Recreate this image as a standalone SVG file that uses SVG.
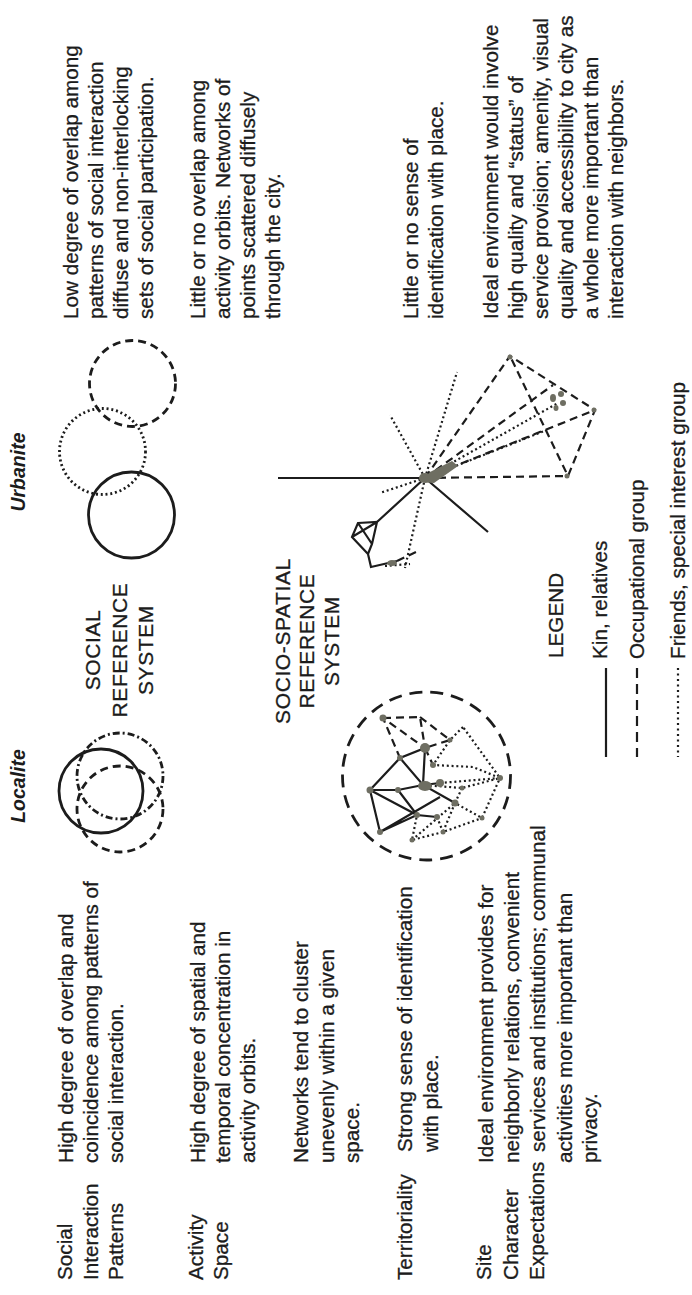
<svg xmlns="http://www.w3.org/2000/svg" width="692" height="1295" viewBox="0 0 692 1295">
<style>
.txt{font-family:"Liberation Sans",Arial,sans-serif;font-size:20.7px;fill:#1c1c1c;stroke:#1c1c1c;stroke-width:0.3}
.hd{font-style:italic;font-weight:bold;font-size:19.5px;text-anchor:middle;stroke-width:0}
.cap{font-size:21px;letter-spacing:0.6px;text-anchor:middle}
.ln{fill:none;stroke:#1c1c1c;stroke-width:2.2;stroke-linecap:butt}
.ring{fill:none;stroke:#1c1c1c;stroke-width:2.8}
.dash{stroke-dasharray:8 5}
.ldash{stroke-dasharray:13 8}
.dot{stroke-dasharray:2 2.8}
.dd{stroke-dasharray:7 3 2 3}
.blob{fill:#6e6e62}
</style>
<rect width="692" height="1295" fill="#ffffff"/>

<g id="texts" class="txt" transform="translate(0,1295) rotate(-90)">
  <g id="headers">
    <text class="hd" x="509" y="25">Localite</text>
    <text class="hd" x="823" y="25">Urbanite</text>
  </g>
  <g id="row-labels">
    <text x="15" y="72">Social</text>
    <text x="15" y="98">Interaction</text>
    <text x="15" y="123">Patterns</text>
    <text x="15" y="203">Activity</text>
    <text x="15" y="228">Space</text>
    <text x="15" y="412">Territoriality</text>
    <text x="15" y="491">Site</text>
    <text x="15" y="518">Character</text>
    <text x="15" y="544">Expectations</text>
  </g>
  <g id="localite-text">
    <text x="132" y="73">High degree of overlap and</text>
    <text x="132" y="98">coincidence among patterns of</text>
    <text x="132" y="123">social interaction.</text>
    <text x="132" y="205">High degree of spatial and</text>
    <text x="132" y="230">temporal concentration in</text>
    <text x="132" y="255">activity orbits.</text>
    <text x="132" y="308">Networks tend to cluster</text>
    <text x="132" y="334">unevenly within a given</text>
    <text x="132" y="359">space.</text>
    <text x="143" y="412">Strong sense of identification</text>
    <text x="143" y="438">with place.</text>
    <text x="132" y="493">Ideal environment provides for</text>
    <text x="132" y="519">neighborly relations, convenient</text>
    <text x="143" y="545">services and institutions; communal</text>
    <text x="132" y="572">activities more important than</text>
    <text x="132" y="597">privacy.</text>
  </g>
  <g id="urbanite-text">
    <text x="976" y="78">Low degree of overlap among</text>
    <text x="976" y="103">patterns of social interaction</text>
    <text x="976" y="128">diffuse and non-interlocking</text>
    <text x="976" y="153">sets of social participation.</text>
    <text x="976" y="205">Little or no overlap among</text>
    <text x="976" y="230">activity orbits. Networks of</text>
    <text x="976" y="255">points scattered diffusely</text>
    <text x="976" y="280">through the city.</text>
    <text x="976" y="418">Little or no sense of</text>
    <text x="976" y="443">identification with place.</text>
    <text x="976" y="498">Ideal environment would involve</text>
    <text x="976" y="523">high quality and “status” of</text>
    <text x="976" y="548">service provision; amenity, visual</text>
    <text x="976" y="573">quality and accessibility to city as</text>
    <text x="976" y="598">a whole more important than</text>
    <text x="976" y="623">interaction with neighbors.</text>
  </g>
  <g id="system-titles">
    <text class="cap" x="645" y="100">SOCIAL</text>
    <text class="cap" x="645" y="127">REFERENCE</text>
    <text class="cap" x="645" y="153">SYSTEM</text>
    <text class="cap" x="654" y="290">SOCIO-SPATIAL</text>
    <text class="cap" x="654" y="314">REFERENCE</text>
    <text class="cap" x="654" y="339">SYSTEM</text>
  </g>
  <g id="legend-text">
    <text x="637" y="563">LEGEND</text>
    <text x="636" y="607">Kin, relatives</text>
    <text x="636" y="644">Occupational group</text>
    <text x="636" y="685">Friends, special interest group</text>
  </g>
</g>

<g id="localite-social">
  <circle class="ring" cx="101" cy="791" r="42"/>
  <circle class="ring dd" cx="120" cy="776" r="43"/>
  <circle class="ring dash" cx="120" cy="809" r="43"/>
</g>

<g id="urbanite-social">
  <circle class="ring dash" cx="132.5" cy="383.5" r="43"/>
  <circle class="ring dot" cx="102.5" cy="451.5" r="43"/>
  <circle class="ring" cx="131.5" cy="515" r="43"/>
</g>

<g id="connectors">
  <g id="localite-network">
    <circle class="ring ldash" cx="426.5" cy="776" r="84"/>
    <path class="ln" d="M370 790L400 758L425 748L423 785M370 790L398 790L423 785L440 783M370 790L380 832L417 815L370 790M380 832L440 797M400 758L423 785L455 803M398 790L417 815L437 817"/>
    <path class="ln dash" d="M383 718L420 717L425 748L383 718L400 758M420 717L450 740L425 748M425 748L433 765"/>
    <path class="ln dot" d="M463 727L450 740L433 765L473 767L500 778L463 727M440 783L500 778L462 788L423 785M462 788L455 803L482 818L500 778M455 803L443 832L482 818M443 832L412 840L417 815M437 817L443 832M412 840L455 803"/>
    <g class="blob">
      <circle cx="383" cy="718" r="3.5"/>
      <circle cx="425" cy="748" r="5"/>
      <ellipse cx="425" cy="786" rx="7" ry="5"/>
      <circle cx="370" cy="790" r="3.5"/>
      <circle cx="400" cy="758" r="3"/>
      <circle cx="398" cy="790" r="3"/>
      <circle cx="440" cy="783" r="4"/>
      <circle cx="462" cy="788" r="2.5"/>
      <circle cx="455" cy="803" r="3.5"/>
      <circle cx="437" cy="817" r="3"/>
      <circle cx="417" cy="815" r="3"/>
      <circle cx="380" cy="832" r="3"/>
      <circle cx="412" cy="840" r="2.5"/>
      <circle cx="443" cy="832" r="2.5"/>
      <circle cx="482" cy="818" r="2.5"/>
      <circle cx="500" cy="778" r="3"/>
      <circle cx="433" cy="765" r="3"/>
      <circle cx="450" cy="740" r="2.5"/>
    </g>
  </g>
  <g id="urbanite-network">
    <path class="ln" d="M278 478L425 478L488 532M425 478L377 522"/>
    <path class="ln" d="M358 523L377 522L372 544L368 554L352 537Z M358 523L372 544 M377 522L352 537 M368 554L371 567L397 561"/>
    <path class="ln dash" d="M397 561L418 551M425 478L568 476M425 478L510 356L595 410L568 476L510 356M425 478L595 410M425 478L553 385"/>
    <path class="ln dot" d="M425 478L380 493M425 478L405 568M425 478L390 415M425 478L457 372M425 478L558 403M425 478L547 430M385 566L410 564"/>
    <g class="blob">
      <ellipse cx="425" cy="478" rx="6" ry="5"/>
      <path d="M420 482L430 472L452 461L458 466L434 483Z"/>
      <ellipse cx="553" cy="398" rx="3" ry="4"/>
      <ellipse cx="561" cy="394" rx="3" ry="3"/>
      <ellipse cx="563" cy="403" rx="3" ry="3"/>
      <ellipse cx="556" cy="408" rx="2.5" ry="3"/>
      <circle cx="510" cy="357" r="2.5"/>
      <circle cx="594" cy="410" r="2.5"/>
      <circle cx="567" cy="476" r="2.5"/>
      <ellipse cx="392" cy="563" rx="5" ry="3"/>
    </g>
  </g>
  <g id="legend-lines">
    <line class="ln" x1="606" y1="668" x2="606" y2="757"/>
    <line class="ln" x1="637" y1="668" x2="637" y2="757" stroke-dasharray="10 6"/>
    <line class="ln" x1="678" y1="668" x2="678" y2="757" stroke-dasharray="2 3.5"/>
  </g>
</g>
</svg>
